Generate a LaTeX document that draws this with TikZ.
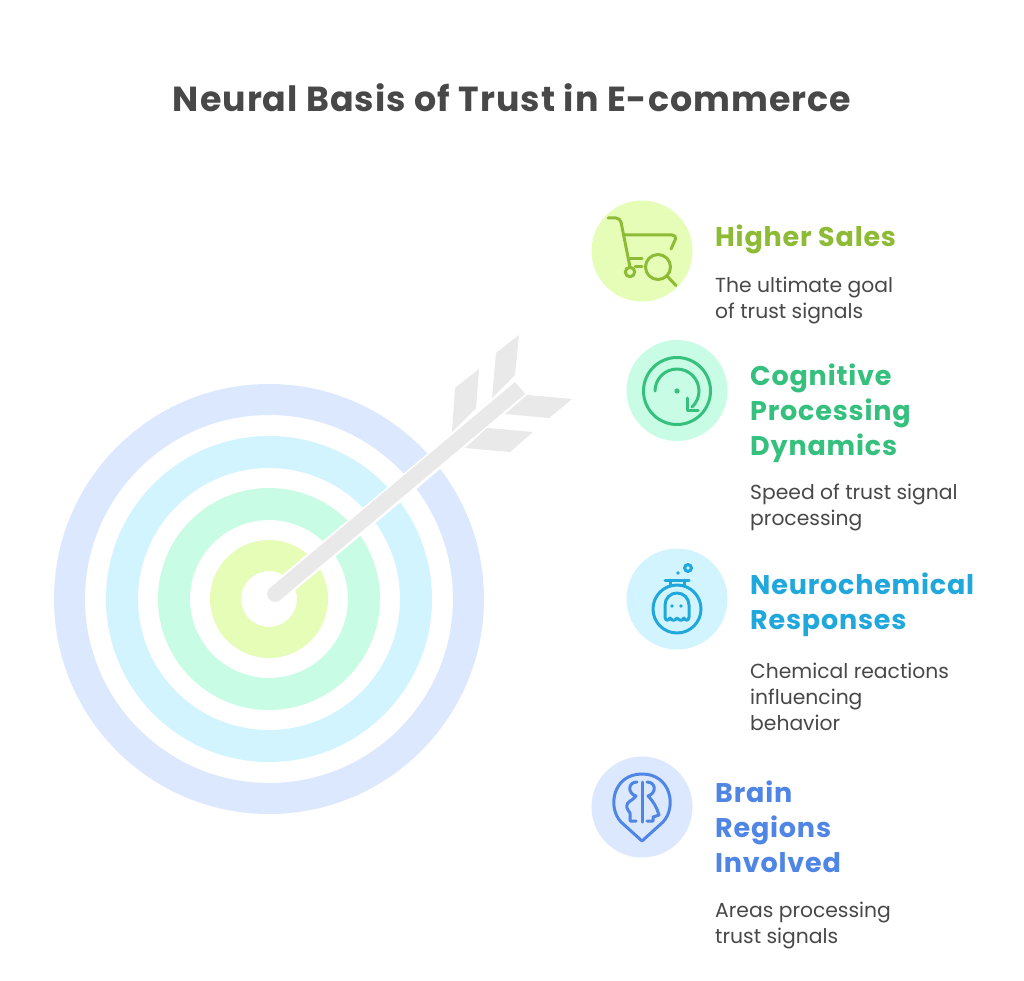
\documentclass[tikz,border=0pt]{standalone}
\usepackage{fontspec}
\setmainfont{Poppins}
\newfontfamily\headfont[LetterSpace=3]{Poppins}[BoldFont={Poppins Bold}]
\definecolor{tlime}{HTML}{8DBB35}\definecolor{tgreen}{HTML}{35C07E}\definecolor{tcyan}{HTML}{20A7DB}\definecolor{tblue}{HTML}{4F85E5}
\definecolor{flime}{HTML}{E6FDB8}\definecolor{fgreen}{HTML}{C8FCE5}\definecolor{fcyan}{HTML}{D2F4FE}\definecolor{fblue}{HTML}{DCE8FE}
\definecolor{ink}{HTML}{484848}\definecolor{shaft}{HTML}{E9E9E9}
\tikzset{
 titletext/.style={anchor=center,text=ink,font=\headfont\bfseries\fontsize{34.8}{40}\selectfont,inner sep=0},
 headtext/.style={anchor=north west,align=left,inner sep=0,font=\headfont\bfseries\fontsize{27}{34.6}\selectfont},
 desctext/.style={anchor=north west,align=left,inner sep=0,text=ink,font=\fontsize{20.3}{25.7}\selectfont},
 badge/.style={circle,minimum size=101pt,inner sep=0},
 ico/.style={line width=3pt,line cap=round,line join=round}
}
\begin{document}
\begin{tikzpicture}[x=1pt,y=-1pt]
\useasboundingbox[fill=white] (0,0) rectangle (1024,981);
% target
\fill[fblue,even odd rule] (269,599) circle (215) (269,599) circle (184);
\fill[fcyan,even odd rule] (269,599) circle (163) (269,599) circle (131);
\fill[fgreen,even odd rule] (269,599) circle (111) (269,599) circle (79);
\fill[flime,even odd rule] (269,599) circle (59) (269,599) circle (28);
% arrow
\draw[white,line width=20pt] (275,594) -- (512,396);
\fill[shaft] (515,382) -- (525,394) -- (280,600) -- (270,588) -- cycle;
\fill[shaft] (275,594) circle (7.8);
\fill[shaft] (455,388) -- (479,369) -- (476,408) -- (452,432) -- cycle;
\fill[shaft] (496,353) -- (519,335) -- (515,375) -- (492,398) -- cycle;
\fill[shaft] (527,395) -- (572,399) -- (549,418) -- (505,414) -- cycle;
\fill[shaft] (487,428) -- (533,432) -- (510,452) -- (465,448) -- cycle;
% title
\node[titletext] (title) at (512,98) {Neural Basis of Trust in E-commerce};
% badges
\node[badge,fill=flime] (b1) at (642,251) {};
\node[badge,fill=fgreen] (b2) at (677,390.5) {};
\node[badge,fill=fcyan] (b3) at (677,599) {};
\node[badge,fill=fblue] (b4) at (642,807) {};
% cart
\begin{scope}[ico,draw=tlime]
\draw (608,218) -- (616,218) .. controls (619,218) and (620,220) .. (621,222) -- (630,267);
\draw (624,235) -- (672,235) .. controls (675,235) and (676,237) .. (675.5,239) -- (671,249);
\draw (630,259) -- (642,259);
\draw (635,267) -- (642,267);
\draw (630,272) circle (4.7);
\draw (658,267) circle (12.5);
\draw (667,276) -- (676,285.5);
\end{scope}
% rotation
\begin{scope}[ico,draw=tgreen]
\draw (677,391) circle (33.5);
\fill[tgreen] (677,391) circle (2.6);
\draw (655,391) arc (180:407:22);
\draw (687,398) -- (687,410) -- (698,410);
\end{scope}
% flask
\begin{scope}[ico,draw=tcyan]
\draw (670,585) -- (670,580) (684,580) -- (684,585);
\draw (665,580) -- (689,580);
\draw (677,609) circle (24);
\draw (688,568) circle (3.4);
\fill[tcyan] (678,573) circle (1.9);
\draw (665,617) -- (665,605) arc (180:360:12) -- (689,617)
  .. controls (689,621) and (685,621) .. (684,618) .. controls (682,621) and (680,621) .. (677,618)
  .. controls (675,621) and (672,621) .. (670,618) .. controls (669,621) and (665,621) .. (665,617);
\fill[tcyan] (672,606) circle (1.8) (681,606) circle (1.8);
\end{scope}
% brain pin
\begin{scope}[ico,draw=tblue]
\draw (642,841) -- (621,822) .. controls (607,807) and (613,774) .. (642,774) .. controls (671,774) and (677,807) .. (663,822) -- cycle;
\draw (642,782) -- (642,822);
\draw (637,782) .. controls (628,782) and (627,793) .. (636,796) .. controls (632,802) and (626,800) .. (627,808) .. controls (627,811) and (630,811) .. (630,813) -- (630,821) -- (636,821);
\draw (647,782) .. controls (656,782) and (657,793) .. (648,796) .. controls (654,802) and (657,808) .. (659,815) -- (653,817) -- (653,821) -- (647,821);
\end{scope}
% texts
\node[headtext,text=tlime] (h1) at (715,225) {Higher Sales};
\node[desctext] (d1) at (715,277) {The ultimate goal\\of trust signals};
\node[headtext,text=tgreen] (h2) at (750,364) {Cognitive\\Processing\\Dynamics};
\node[desctext] (d2) at (750,484) {Speed of trust signal\\processing};
\node[headtext,text=tcyan] (h3) at (750,573) {Neurochemical\\Responses};
\node[desctext] (d3) at (750,663) {Chemical reactions\\influencing\\behavior};
\node[headtext,text=tblue] (h4) at (715,781) {Brain\\Regions\\Involved};
\node[desctext] (d4) at (715,902) {Areas processing\\trust signals};
\end{tikzpicture}
\end{document}
